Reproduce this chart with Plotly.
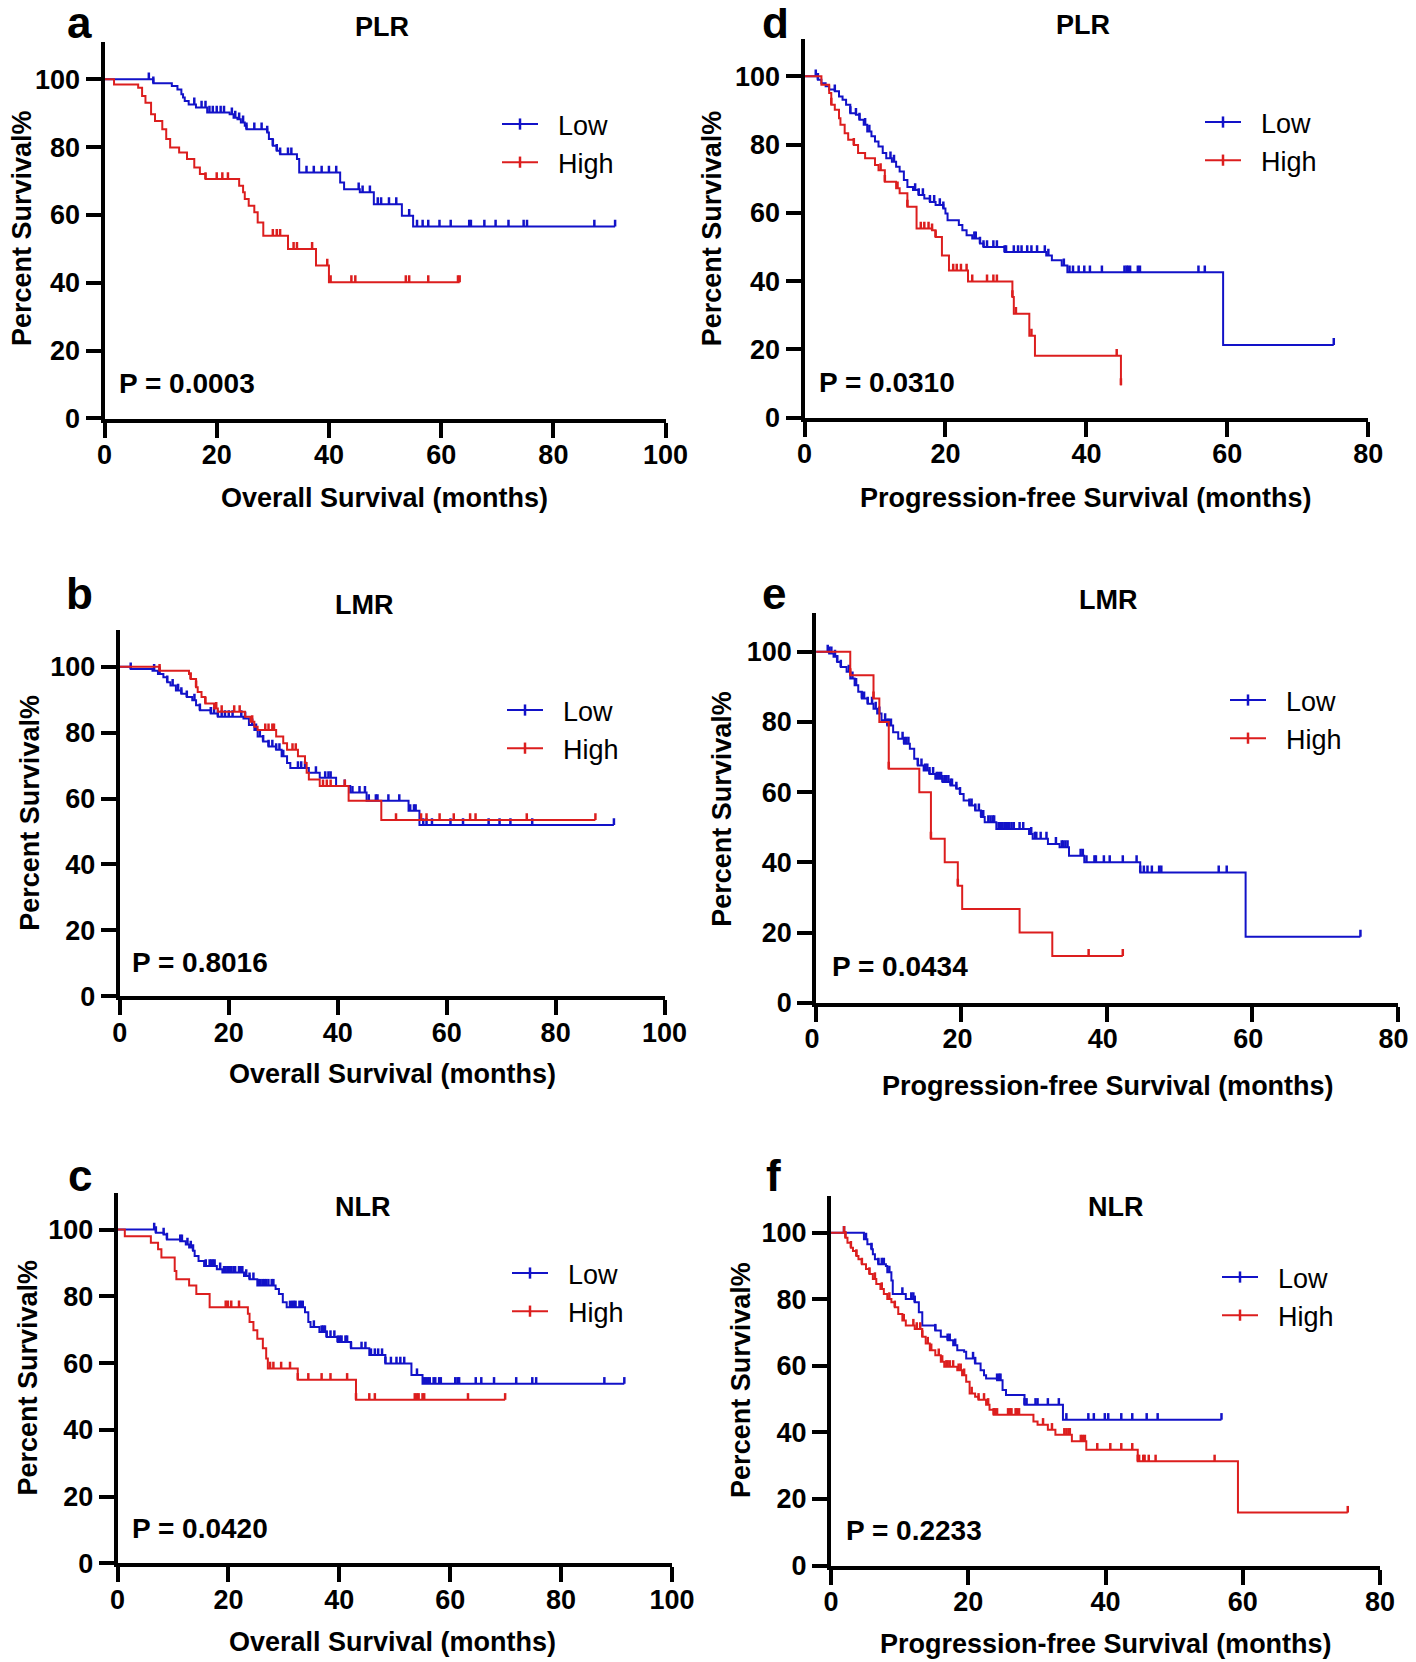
import numpy as np
import plotly.graph_objects as go

FONT = "Liberation Sans, Arial, Helvetica, sans-serif"
BLUE = "#1212c8"
RED = "#dc1e1e"
PAGE_W, PAGE_H = 1416, 1662
OFF = 8                      # default page (body) margin around the figure
W, H = PAGE_W - OFF, PAGE_H - OFF

# ---------------- Data (event times in months, survival % after event, censor times) ----------------
# Panel a: PLR, overall survival
a_low_t = [8.7, 12.0, 13.0, 13.7, 14.0, 14.3, 15.0, 16.3, 18.3, 22.3, 23.0, 23.7, 24.3, 25.0, 25.3, 29.0, 29.3,
           30.0, 30.7, 31.3, 34.3, 34.7, 42.0, 42.7, 45.5, 48.0, 53.0, 55.0]
a_low_s = [98.8, 98.0, 97.0, 95.6, 94.6, 93.6, 92.6, 91.7, 90.2, 89.7, 88.7, 88.2, 87.3, 86.3, 85.3, 84.3, 82.4,
           80.4, 78.9, 77.9, 76.5, 72.5, 69.6, 67.6, 66.7, 63.2, 59.8, 56.6]
a_low_c = [7.9, 8.7, 16.0, 17.3, 18.0, 18.7, 19.3, 20.0, 20.7, 21.3, 22.7, 23.3, 24.0, 24.7, 25.3, 26.7, 28.0, 29.0,
           30.0, 30.7, 31.3, 32.7, 33.3, 36.0, 37.3, 38.7, 40.0, 41.3, 45.3, 46.0, 47.3, 48.7, 49.3, 50.7, 52.0, 54.3,
           55.7, 56.7, 57.7, 59.7, 61.7, 65.0, 65.3, 67.7, 69.7, 72.0, 74.7, 75.3, 87.3, 91.0]
a_high_t = [1.7, 6.0, 6.7, 7.3, 8.3, 9.0, 10.3, 11.0, 11.7, 13.3, 14.7, 16.0, 17.0, 18.0, 24.0, 24.7, 25.0, 25.7,
            26.7, 27.3, 28.3, 32.7, 37.7, 40.0]
a_high_s = [98.5, 97.5, 95.1, 93.1, 89.7, 87.7, 85.3, 82.4, 79.9, 78.4, 76.5, 74.0, 72.1, 70.6, 68.6, 66.7, 64.7,
            62.7, 60.8, 57.8, 53.9, 50.0, 45.1, 40.2]
a_high_c = [18.0, 20.0, 21.0, 22.0, 30.0, 30.7, 31.3, 33.7, 34.3, 37.0, 39.7, 40.3, 44.0, 44.7, 53.7, 54.3, 57.7,
            63.0, 63.3]

# Panel d: PLR, progression-free survival
d_low_t = [1.9, 2.4, 3.0, 3.5, 4.3, 4.9, 5.4, 5.9, 6.5, 7.3, 7.8, 8.4, 8.9, 9.5, 10.0, 10.5, 11.1, 11.6, 12.4,
           13.0, 13.5, 14.1, 14.6, 15.4, 16.2, 17.0, 17.8, 18.6, 19.7, 20.0, 20.3, 21.9, 22.4, 23.0, 23.8, 24.9,
           25.4, 28.4, 34.3, 35.1, 36.5, 37.3, 59.4]
d_low_s = [99.0, 98.0, 97.1, 96.1, 95.6, 94.1, 93.1, 91.7, 89.2, 88.7, 87.3, 85.8, 83.8, 82.4, 80.9, 79.4, 77.5,
           76.0, 75.0, 73.5, 72.1, 69.6, 67.6, 66.7, 65.2, 64.2, 63.2, 62.3, 61.3, 59.8, 57.8, 56.4, 54.9, 53.4,
           52.5, 51.0, 50.0, 48.5, 47.5, 46.1, 44.6, 42.6, 21.3]
d_low_c = [1.6, 1.9, 4.3, 6.5, 7.3, 7.8, 8.6, 9.2, 12.2, 12.7, 15.7, 16.2, 16.8, 17.8, 18.4, 19.2, 19.7, 24.1,
           24.3, 24.9, 25.4, 25.9, 26.8, 27.3, 28.4, 28.6, 29.7, 30.3, 30.8, 31.6, 32.2, 33.0, 34.1, 34.6, 36.8,
           37.6, 38.1, 38.9, 39.7, 40.5, 42.2, 45.4, 45.7, 45.9, 46.2, 47.3, 47.6, 55.9, 56.8, 75.1]
d_high_t = [2.4, 3.5, 3.8, 4.3, 4.9, 5.1, 5.7, 6.2, 7.0, 7.6, 8.6, 10.0, 10.5, 11.4, 13.0, 13.5, 14.6, 15.9,
            18.1, 18.6, 19.5, 20.5, 23.2, 29.5, 29.7, 31.9, 32.7, 44.9]
d_high_s = [97.5, 95.1, 91.7, 90.2, 87.7, 85.8, 83.3, 81.4, 79.9, 77.5, 76.0, 74.0, 72.5, 69.1, 67.2, 65.7, 61.8,
            55.4, 54.9, 52.9, 47.5, 43.1, 39.9, 35.3, 30.4, 24.0, 18.1, 9.5]
d_high_c = [3.8, 7.0, 10.8, 11.4, 13.2, 14.6, 16.5, 17.0, 17.6, 18.1, 18.6, 21.1, 21.6, 22.2, 23.0, 23.8, 25.9,
            26.8, 27.3, 29.5, 30.0, 32.2, 44.3, 44.9]

# Panel b: LMR, overall survival
b_low_t = [2.0, 6.0, 7.0, 8.0, 8.7, 9.3, 10.3, 11.3, 12.3, 13.3, 14.0, 14.7, 16.7, 18.0, 22.7, 23.7, 24.7, 25.3,
           26.3, 27.3, 28.7, 29.7, 30.7, 31.3, 34.7, 36.7, 39.7, 42.3, 45.3, 53.0, 55.0]
b_low_s = [99.3, 98.8, 97.8, 96.8, 95.3, 94.3, 92.8, 91.8, 90.8, 89.8, 88.3, 86.8, 85.8, 84.8, 84.3, 82.3, 80.8,
           78.8, 77.3, 75.8, 74.8, 72.8, 70.8, 69.3, 67.8, 66.3, 63.8, 61.8, 59.3, 56.3, 52.0]
b_low_c = [2.0, 6.3, 7.3, 8.7, 9.7, 10.7, 11.3, 12.3, 13.7, 14.7, 16.7, 17.3, 18.0, 18.7, 19.3, 20.0, 20.7, 22.3,
           23.0, 24.3, 25.0, 25.7, 26.3, 27.3, 28.0, 28.7, 29.3, 30.0, 32.7, 33.3, 34.0, 36.0, 37.7, 38.3, 38.7,
           41.3, 42.7, 44.0, 45.0, 45.7, 47.0, 47.3, 49.3, 51.3, 53.3, 54.0, 54.3, 55.7, 56.3, 57.3, 60.7, 63.0,
           67.7, 69.7, 71.7, 75.7, 90.7]
b_high_t = [7.3, 12.7, 13.0, 14.0, 14.3, 15.0, 15.7, 17.3, 18.0, 23.0, 24.0, 24.7, 25.3, 28.7, 30.0, 30.7, 32.7,
            34.0, 34.3, 34.7, 36.7, 42.0, 48.0]
b_high_s = [98.8, 97.8, 96.3, 93.8, 92.3, 90.8, 88.8, 87.3, 86.3, 84.8, 83.3, 81.8, 80.8, 78.8, 76.8, 74.8, 72.8,
            70.8, 67.8, 65.8, 63.8, 59.3, 53.5]
b_high_c = [7.3, 13.0, 14.0, 15.7, 17.7, 18.7, 21.0, 22.0, 24.3, 26.7, 27.3, 28.0, 28.3, 31.7, 32.3, 37.3, 38.0,
            38.7, 41.3, 50.7, 55.3, 56.3, 58.7, 61.3, 64.3, 65.3, 74.7, 87.3]

# Panel e: LMR, progression-free survival
e_low_t = [1.8, 2.4, 2.9, 3.4, 4.2, 4.7, 5.3, 5.8, 6.3, 7.1, 7.9, 8.4, 9.0, 9.8, 10.6, 11.3, 12.1, 12.9, 13.5,
           14.0, 14.8, 15.6, 16.4, 17.4, 18.5, 19.3, 19.8, 20.3, 21.1, 21.9, 22.7, 23.2, 24.8, 29.3, 29.8, 31.9,
           33.5, 34.8, 36.9, 44.6, 59.1]
e_low_s = [99.5, 98.6, 97.1, 95.7, 94.3, 92.4, 90.5, 88.6, 86.7, 85.2, 83.8, 82.4, 80.5, 79.0, 77.1, 75.2, 73.8,
           72.4, 69.5, 67.6, 66.2, 65.2, 63.8, 62.9, 61.9, 61.0, 59.5, 57.6, 56.2, 54.8, 52.9, 51.4, 49.5, 48.1,
           46.7, 45.2, 44.3, 41.9, 40.0, 37.1, 18.8]
e_low_c = [1.6, 1.8, 2.1, 2.6, 2.9, 3.4, 4.5, 5.0, 5.5, 6.3, 6.6, 7.1, 7.7, 8.2, 8.7, 9.5, 9.8, 10.0, 10.3, 11.9,
           12.1, 12.4, 12.7, 14.0, 14.5, 15.0, 15.3, 15.6, 16.1, 16.6, 16.9, 17.2, 17.4, 17.7, 17.9, 18.2, 18.5,
           18.7, 19.3, 19.8, 21.1, 21.4, 21.9, 22.4, 22.7, 23.0, 23.7, 24.0, 24.3, 24.5, 25.1, 25.3, 25.6, 25.9,
           26.1, 26.4, 26.6, 26.9, 27.2, 28.0, 28.5, 29.6, 30.1, 30.3, 30.9, 31.7, 33.0, 33.8, 34.0, 34.3, 34.6,
           36.4, 36.7, 37.2, 38.3, 38.5, 39.6, 40.4, 42.2, 44.1, 44.6, 45.1, 45.6, 46.2, 47.2, 47.5, 55.4, 56.5,
           74.9]
e_high_t = [4.7, 7.9, 8.7, 10.0, 14.2, 15.8, 17.7, 19.5, 20.1, 28.0, 32.5]
e_high_s = [93.3, 86.7, 80.0, 66.7, 60.0, 46.7, 40.0, 33.3, 26.7, 20.0, 13.3]
e_high_c = [4.7, 7.9, 10.0, 15.8, 19.5, 37.5, 42.2]

# Panel c: NLR, overall survival
c_low_t = [6.9, 8.3, 8.9, 11.3, 12.3, 12.9, 13.6, 13.9, 14.6, 15.6, 17.9, 18.9, 22.8, 23.8, 25.2, 28.5, 29.1,
           29.8, 30.5, 33.8, 34.4, 34.8, 36.4, 37.7, 39.7, 42.1, 45.4, 48.3, 53.0, 55.0]
c_low_s = [99.0, 98.5, 97.0, 96.5, 95.5, 94.6, 93.6, 92.1, 90.6, 89.1, 88.1, 87.1, 86.1, 85.1, 83.2, 82.2, 80.7,
           78.2, 76.7, 75.2, 72.3, 70.8, 69.3, 67.8, 66.3, 64.4, 62.4, 59.9, 56.4, 53.8]
c_low_c = [6.6, 6.9, 8.3, 8.9, 11.3, 11.6, 12.6, 13.2, 13.6, 15.9, 16.6, 16.9, 17.2, 17.5, 18.5, 19.2, 19.5, 19.9,
           20.2, 20.5, 20.9, 21.2, 21.9, 22.2, 22.5, 23.2, 23.8, 24.5, 25.5, 25.8, 26.2, 26.5, 26.8, 27.2, 27.8,
           28.1, 31.1, 31.5, 31.8, 32.1, 32.8, 33.1, 33.4, 35.4, 36.8, 37.1, 37.4, 37.7, 38.4, 39.1, 39.7, 40.1,
           40.4, 41.1, 41.4, 42.1, 44.0, 44.7, 45.7, 46.4, 47.0, 47.7, 48.3, 49.3, 50.3, 51.0, 51.7, 54.0, 55.3,
           55.6, 56.0, 56.3, 57.0, 57.3, 58.0, 58.3, 60.9, 61.3, 61.6, 64.6, 65.6, 67.9, 71.9, 74.8, 75.5, 87.8,
           91.4]
c_high_t = [1.3, 6.0, 7.3, 7.9, 10.3, 10.6, 12.9, 14.2, 16.6, 23.5, 23.8, 24.5, 25.2, 26.2, 26.8, 27.1, 32.5, 43.0]
c_high_s = [98.0, 96.0, 94.1, 91.6, 87.6, 85.1, 83.2, 80.7, 76.7, 74.8, 72.3, 69.8, 67.3, 64.4, 61.4, 58.4, 55.0,
            49.0]
c_high_c = [19.5, 19.9, 20.5, 21.9, 27.5, 28.1, 29.5, 31.1, 32.5, 34.4, 36.8, 38.4, 41.4, 43.0, 45.4, 46.4, 53.6,
            54.0, 54.3, 55.0, 55.3, 63.2, 69.9]

# Panel f: NLR, progression-free survival
f_low_t = [4.8, 5.3, 5.9, 6.1, 6.4, 6.9, 8.0, 8.2, 8.8, 9.0, 10.9, 12.2, 12.8, 13.3, 15.2, 16.0, 17.0, 17.8, 18.4,
           19.4, 19.7, 21.0, 21.8, 22.3, 22.6, 24.2, 25.0, 25.5, 28.2, 33.8]
f_low_s = [98.0, 96.5, 95.0, 93.5, 92.0, 90.5, 90.0, 88.1, 85.6, 81.6, 80.1, 79.1, 76.1, 72.1, 70.6, 68.7, 67.7,
           66.2, 64.7, 64.2, 62.2, 60.7, 58.7, 57.2, 56.2, 55.7, 52.7, 51.2, 48.3, 43.8]
f_low_c = [1.9, 5.1, 5.9, 6.9, 7.4, 7.7, 8.5, 10.4, 11.7, 12.0, 12.2, 15.2, 17.0, 17.3, 18.1, 20.7, 21.0, 24.2,
           24.5, 24.7, 28.2, 28.5, 29.8, 30.1, 31.6, 33.2, 34.3, 37.5, 38.3, 39.9, 40.4, 42.3, 43.9, 46.0, 47.6,
           56.9]
f_high_t = [2.1, 2.4, 2.9, 3.2, 3.7, 4.0, 4.5, 5.1, 5.6, 6.1, 6.6, 7.2, 7.7, 8.2, 8.8, 9.3, 9.8, 10.4, 10.9, 12.2,
            13.3, 13.8, 14.4, 15.2, 16.0, 16.5, 18.4, 19.1, 19.7, 20.2, 21.0, 21.5, 22.6, 23.1, 23.7, 29.5, 30.1,
            31.6, 32.7, 35.1, 37.2, 44.7, 59.3]
f_high_s = [98.5, 97.0, 95.5, 94.5, 93.0, 92.0, 90.5, 89.1, 87.6, 86.1, 84.6, 83.1, 81.6, 80.1, 79.1, 77.6, 75.6,
            73.6, 72.1, 71.1, 68.7, 66.7, 64.7, 63.2, 61.2, 59.7, 58.7, 57.2, 55.2, 51.7, 50.7, 49.8, 48.3, 46.8,
            45.3, 43.3, 42.3, 40.8, 39.3, 37.3, 34.8, 31.3, 15.9]
f_high_c = [1.9, 2.1, 2.9, 3.7, 4.5, 5.6, 6.4, 7.4, 8.5, 9.3, 10.6, 12.0, 12.5, 13.0, 13.3, 14.1, 14.6, 15.7, 16.2,
            16.8, 17.0, 17.3, 17.8, 18.6, 18.9, 19.4, 20.5, 21.5, 22.3, 22.9, 23.7, 23.9, 24.2, 25.8, 26.1, 26.3,
            26.9, 27.1, 27.4, 30.9, 32.2, 34.0, 34.3, 34.6, 34.8, 36.4, 36.7, 37.0, 38.8, 40.7, 42.3, 43.9, 44.7,
            44.9, 45.5, 45.7, 46.3, 47.3, 55.9, 75.3]

panel_letters = ["a", "d", "b", "e", "c", "f"]
panel_titles = ["PLR", "PLR", "LMR", "LMR", "NLR", "NLR"]
x_titles = ["Overall Survival (months)", "Progression-free Survival (months)",
            "Overall Survival (months)", "Progression-free Survival (months)",
            "Overall Survival (months)", "Progression-free Survival (months)"]
p_values = ["P = 0.0003", "P = 0.0310", "P = 0.8016", "P = 0.0434", "P = 0.0420", "P = 0.2233"]
x_max = [100, 80, 100, 80, 100, 80]
y_ticks = [0, 20, 40, 60, 80, 100]
group_names = ["Low", "High"]

series = [
    ((a_low_t, a_low_s, a_low_c), (a_high_t, a_high_s, a_high_c)),
    ((d_low_t, d_low_s, d_low_c), (d_high_t, d_high_s, d_high_c)),
    ((b_low_t, b_low_s, b_low_c), (b_high_t, b_high_s, b_high_c)),
    ((e_low_t, e_low_s, e_low_c), (e_high_t, e_high_s, e_high_c)),
    ((c_low_t, c_low_s, c_low_c), (c_high_t, c_high_s, c_high_c)),
    ((f_low_t, f_low_s, f_low_c), (f_high_t, f_high_s, f_high_c)),
]

# ---------------- Layout geometry (page pixels) ----------------
geom = [
    dict(x0=104.5, xr=665.6, y0=418.5, ppu=3.392, lshift=0),
    dict(x0=804.5, xr=1368.3, y0=417.6, ppu=3.413, lshift=0),
    dict(x0=119.8, xr=664.6, y0=996.3, ppu=3.296, lshift=0),
    dict(x0=816.1, xr=1397.5, y0=1002.7, ppu=3.509, lshift=-4),
    dict(x0=117.6, xr=672.0, y0=1563.4, ppu=3.339, lshift=0),
    dict(x0=831.0, xr=1380.0, y0=1565.5, ppu=3.328, lshift=0),
]
Y_MAX = 111
letter_pos = [(79, 23), (775.8, 23), (79.5, 594), (773.7, 594), (79.5, 1175), (773.7, 1175)]
title_pos = [(381.6, 27), (1083.2, 25), (363.5, 605), (1107.6, 600), (362.5, 1207), (1116.1, 1207)]
xtitle_pos = [(384.7, 498), (1086.4, 498), (392.2, 1074), (1107.6, 1086), (392.2, 1642), (1105.5, 1644)]
ytitle_pos = [(22, 228), (712.3, 228), (29.7, 813), (721.8, 809), (27.6, 1378), (740.9, 1380)]
pval_pos = [(116.6, 384), (817.2, 382), (130.4, 962), (829.9, 967), (130.4, 1528), (843.7, 1530)]
legend_pos = [(497, 100), (1200, 98), (502, 686), (1225, 676), (507, 1249), (1217, 1253)]


def px(x):
    return (x - OFF) / W


def py(y):
    return 1 - (y - OFF) / H


def km_xy(times, surv, cens):
    t = np.array([0.0] + list(times))
    s = np.array([100.0] + list(surv))
    end = max(max(times), max(cens))
    x = np.append(t, end)
    y = np.append(s, s[-1])
    c = np.array(cens)
    idx = np.searchsorted(t, c, side="right") - 1
    return x, y, c, s[idx]


fig = go.Figure()
annotations = []
colors = [BLUE, RED]


def ann(text, pos, size, bold=True, angle=0, xanchor="center"):
    annotations.append(dict(text=text, x=px(pos[0]), y=py(pos[1]), xref="paper", yref="paper",
                            showarrow=False, textangle=angle, xanchor=xanchor, yanchor="middle",
                            font=dict(family=FONT, size=size, color="black",
                                      weight="bold" if bold else "normal")))


for i, (g, pair) in enumerate(zip(geom, series)):
    n = i + 1
    xa = "x" if n == 1 else f"x{n}"
    ya = "y" if n == 1 else f"y{n}"
    lg = "legend" if n == 1 else f"legend{n}"
    for grp, col in zip(pair, colors):
        x, y, cx, cy = km_xy(*grp)
        fig.add_trace(go.Scatter(x=x, y=y, mode="lines", line=dict(color=col, width=2, shape="hv"),
                                 xaxis=xa, yaxis=ya, showlegend=False, hoverinfo="skip"))
        fig.add_trace(go.Scatter(x=cx, y=cy, mode="markers", marker=dict(size=2, color=col, opacity=0),
                                 error_y=dict(type="constant", value=2.0, valueminus=0, symmetric=False,
                                              color=col, thickness=2.5, width=0),
                                 xaxis=xa, yaxis=ya, showlegend=False, hoverinfo="skip", cliponaxis=False))
    for gi, col in enumerate(colors):
        fig.add_trace(go.Scatter(x=[None], y=[None], mode="lines+markers",
                                 name="\u00a0\u00a0" + group_names[gi],
                                 line=dict(color=col, width=2),
                                 marker=dict(symbol="line-ns", size=8, color=col, line=dict(color=col, width=2.5)),
                                 xaxis=xa, yaxis=ya, legend=lg, showlegend=True))

    ytop = g["y0"] - Y_MAX * g["ppu"]
    axis_common = dict(showline=True, linewidth=4, linecolor="black", ticks="outside", ticklen=15,
                       tickwidth=4, tickcolor="black", showgrid=False, zeroline=False, automargin=False,
                       tickfont=dict(family=FONT, size=27, color="black", weight="bold"), fixedrange=True)
    fig.layout[("xaxis" if n == 1 else f"xaxis{n}")] = dict(
        domain=[px(g["x0"]), px(g["xr"])], range=[0, x_max[i]], tickmode="array",
        tickvals=list(range(0, x_max[i] + 1, 20)), anchor=ya, ticklabelstandoff=-6,
        ticklabelshift=g["lshift"], **axis_common)
    fig.layout[("yaxis" if n == 1 else f"yaxis{n}")] = dict(
        domain=[py(g["y0"]), py(ytop)], range=[0, Y_MAX], tickmode="array",
        tickvals=y_ticks, anchor=xa, **axis_common)

    lx, ly = legend_pos[i]
    fig.layout[lg] = dict(x=px(lx), y=py(ly), xanchor="left", yanchor="top",
                          font=dict(family=FONT, size=27, color="black"), bgcolor="rgba(0,0,0,0)",
                          borderwidth=0, itemwidth=36, tracegroupgap=0)

    ann(panel_letters[i], letter_pos[i], 44)
    ann(panel_titles[i], title_pos[i], 27)
    ann(x_titles[i], xtitle_pos[i], 27)
    ann("Percent Survival%", ytitle_pos[i], 27, angle=-90)
    ann(p_values[i], pval_pos[i], 28, xanchor="left")

fig.update_layout(width=W, height=H, margin=dict(l=0, r=0, t=0, b=0), paper_bgcolor="white",
                  plot_bgcolor="white", annotations=annotations)
fig.write_html("out.html")
